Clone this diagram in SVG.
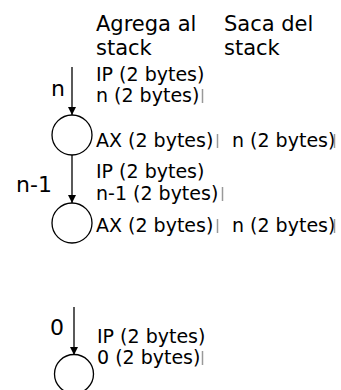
<svg xmlns="http://www.w3.org/2000/svg" width="341" height="390" viewBox="0 0 341 390">
<style>
  text { font-family: "DejaVu Sans", Verdana, sans-serif; fill: #000; }
  .h { font-size: 21px; }
  .b { font-size: 19px; }
  .l { font-size: 22px; }
  .node { fill: #fff; stroke: #000; stroke-width: 1.3; }
  .edge { stroke: #000; stroke-width: 1.3; fill: none; }
  .bar { stroke: #999; stroke-width: 1.5; }
</style>
<defs>
  <marker id="ah" viewBox="0 0 10 10" refX="10" refY="5" markerWidth="8" markerHeight="8" markerUnits="userSpaceOnUse" orient="auto">
    <path d="M0,0 L10,5 L0,10 z" fill="#000"/>
  </marker>
</defs>
<g id="headers">
  <text class="h" x="96" y="31">Agrega al</text>
  <text class="h" x="96" y="55">stack</text>
  <text class="h" x="224" y="31">Saca del</text>
  <text class="h" x="224" y="55">stack</text>
</g>
<g id="connectors">
  <line class="edge" x1="72" y1="67" x2="72" y2="115" marker-end="url(#ah)"/>
  <line class="edge" x1="72" y1="155" x2="72" y2="203" marker-end="url(#ah)"/>
  <line class="edge" x1="74" y1="307" x2="74" y2="355" marker-end="url(#ah)"/>
  <text class="l" x="51" y="96">n</text>
  <text class="l" x="16" y="192">n-1</text>
  <text class="l" x="50" y="335">0</text>
</g>
<g id="node1">
  <circle class="node" cx="72" cy="135" r="20"/>
</g>
<g id="node2">
  <circle class="node" cx="72" cy="223" r="20"/>
</g>
<g id="node3">
  <circle class="node" cx="74" cy="374" r="19.5"/>
</g>
<g id="labels">
  <text class="b" x="96" y="81">IP (2 bytes)</text>
  <text class="b" x="96" y="102">n (2 bytes)</text>
  <line class="bar" x1="202.5" y1="89" x2="202.5" y2="103"/>
  <text class="b" x="96" y="147">AX (2 bytes)</text>
  <line class="bar" x1="217.5" y1="134" x2="217.5" y2="148"/>
  <text class="b" x="232" y="147">n (2 bytes)</text>
  <line class="bar" x1="334.5" y1="134" x2="334.5" y2="148"/>
  <text class="b" x="96" y="178">IP (2 bytes)</text>
  <text class="b" x="96" y="200">n-1 (2 bytes)</text>
  <line class="bar" x1="222.5" y1="187" x2="222.5" y2="201"/>
  <text class="b" x="96" y="232">AX (2 bytes)</text>
  <line class="bar" x1="217.5" y1="219" x2="217.5" y2="233"/>
  <text class="b" x="232" y="232">n (2 bytes)</text>
  <line class="bar" x1="334.5" y1="219" x2="334.5" y2="233"/>
  <text class="b" x="97" y="343">IP (2 bytes)</text>
  <text class="b" x="97" y="364">0 (2 bytes)</text>
  <line class="bar" x1="202.5" y1="351" x2="202.5" y2="365"/>
</g>
</svg>
